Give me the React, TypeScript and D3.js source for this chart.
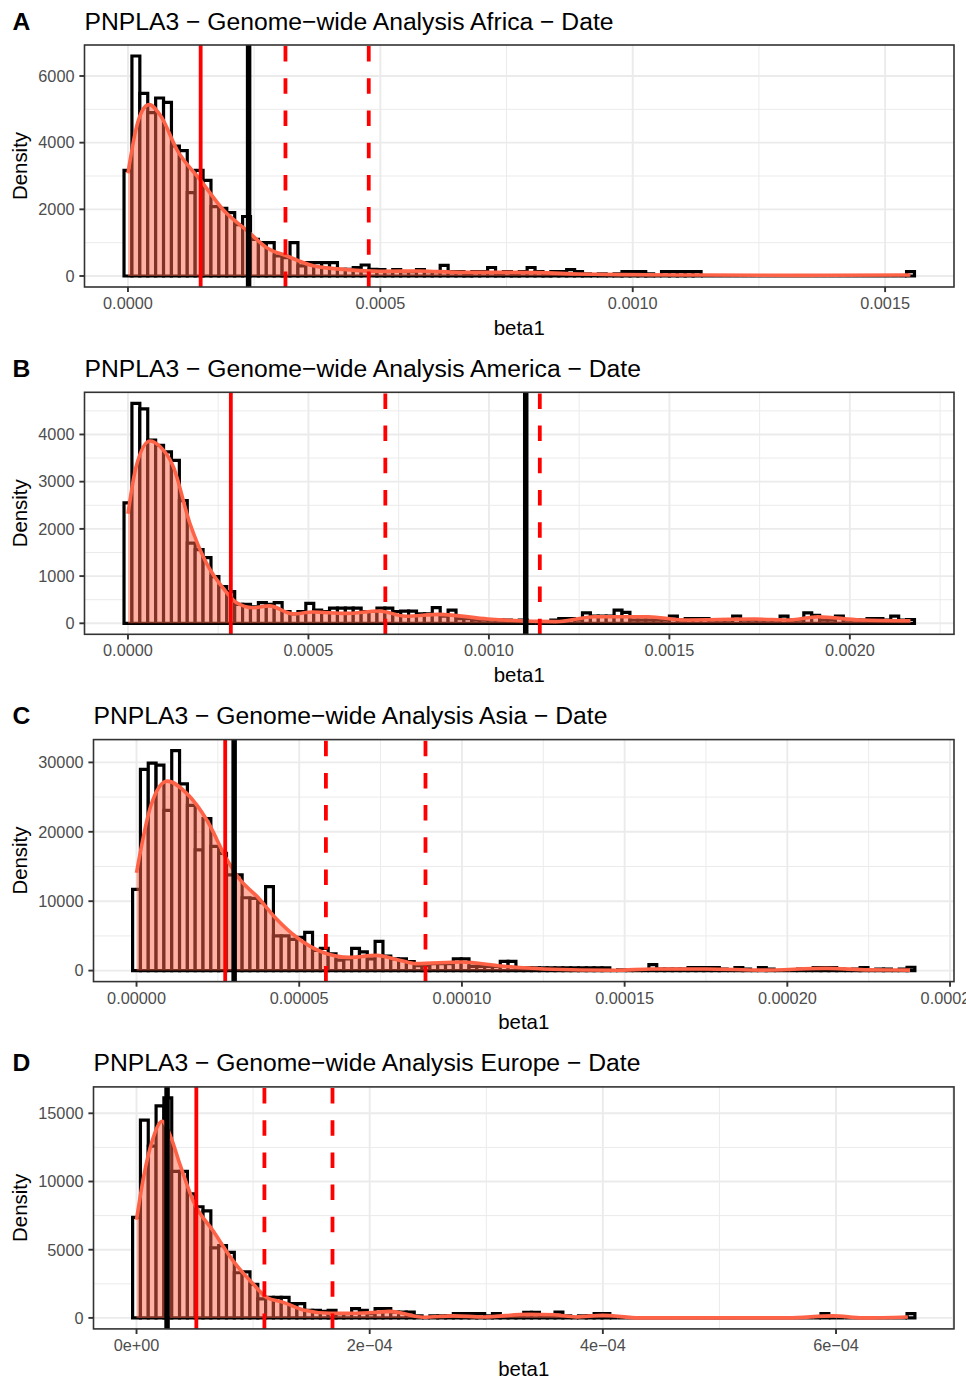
import React, { useEffect, useRef } from "react";
import * as d3 from "d3";

// histogram densities (100 bins per region)
const binsAfrica = [
  3170, 6600, 5480, 4900, 5340, 5210, 3900, 3760, 2500, 3170,
  2870, 2080, 2030, 1900, 1540, 1785, 1100, 1000, 1000, 600,
  550, 1000, 305, 400, 400, 400, 400, 200, 200, 250,
  330, 200, 190, 130, 190, 130, 130, 190, 130, 130,
  320, 130, 130, 64, 130, 130, 255, 64, 130, 64,
  130, 255, 130, 64, 130, 130, 190, 130, 64, 0,
  64, 0, 64, 130, 130, 130, 64, 0, 130, 130,
  130, 130, 130, 0, 0, 0, 0, 0, 0, 0,
  0, 0, 0, 0, 0, 0, 0, 0, 0, 0,
  0, 0, 0, 0, 0, 0, 0, 0, 0, 130,
];
const binsAmerica = [
  2550, 4660, 4540, 3880, 3770, 3630, 3450, 2600, 1700, 1560,
  1390, 990, 780, 670, 400, 400, 350, 440, 400, 440,
  250, 200, 250, 420, 280, 250, 320, 320, 320, 320,
  250, 250, 320, 320, 250, 260, 260, 200, 200, 330,
  150, 280, 100, 100, 70, 70, 70, 70, 70, 0,
  70, 0, 0, 0, 70, 100, 100, 70, 220, 150,
  150, 150, 280, 230, 70, 70, 70, 70, 70, 150,
  70, 100, 100, 100, 70, 70, 70, 150, 70, 70,
  70, 70, 70, 150, 70, 70, 220, 170, 70, 70,
  150, 70, 70, 70, 100, 100, 70, 150, 70, 80,
];
const binsAsia = [
  11700, 29000, 29900, 29600, 23100, 31700, 26900, 23800, 17400, 21900,
  17900, 16900, 13800, 13800, 10500, 10400, 9800, 12100, 5000, 5000,
  4500, 4800, 5500, 2900, 3200, 2400, 1500, 1700, 3200, 2700,
  1700, 4200, 2100, 1700, 1700, 1300, 700, 700, 1000, 1000,
  1000, 1700, 1700, 620, 620, 620, 620, 1340, 1340, 400,
  400, 380, 380, 380, 380, 380, 380, 380, 380, 380,
  380, 0, 100, 0, 100, 0, 860, 200, 200, 200,
  200, 430, 430, 430, 430, 200, 0, 430, 200, 0,
  430, 200, 0, 0, 0, 200, 0, 430, 430, 430,
  200, 0, 200, 430, 0, 200, 200, 0, 200, 480,
];
const binsEurope = [
  7370, 14500, 12600, 15550, 16130, 10750, 10750, 9100, 8150, 7850,
  5140, 5300, 4810, 3310, 3380, 2460, 1400, 1500, 1500, 1500,
  1040, 1040, 550, 550, 480, 550, 310, 310, 680, 550,
  310, 680, 680, 430, 430, 430, 150, 0, 150, 150,
  150, 310, 310, 310, 310, 150, 310, 150, 150, 150,
  400, 400, 150, 150, 430, 150, 0, 150, 150, 310,
  310, 0, 0, 0, 0, 0, 0, 0, 0, 0,
  0, 0, 0, 0, 0, 0, 0, 0, 0, 0,
  0, 0, 0, 0, 0, 0, 0, 0, 310, 0,
  0, 0, 0, 0, 0, 0, 0, 0, 0, 310,
];
const binWidths = [1.566e-5, 2.19e-5, 2.404e-6, 6.71e-6];

// smoothed density curve, sampled points
const densXAfrica = [0, 1.58e-5, 2.8e-5, 4.2e-5, 6.5e-5, 9.8e-5, 1.44e-4, 1.89e-4, 2.36e-4, 2.75e-4, 3.15e-4, 3.67e-4, 4.33e-4, 4.99e-4, 5.78e-4, 6.57e-4, 7.36e-4, 8.14e-4, 8.93e-4, 9.72e-4, 1.13e-3, 1.33e-3, 1.55e-3];
const densYAfrica = [3080, 4400, 4950, 5140, 4800, 3760, 2870, 1980, 1360, 850, 600, 305, 190, 140, 150, 110, 110, 100, 60, 40, 30, 20, 30];
const densXAmerica = [0, 2.2e-5, 6.1e-5, 8.8e-5, 1.25e-4, 1.71e-4, 2.17e-4, 2.63e-4, 3.0e-4, 3.46e-4, 3.92e-4, 4.57e-4, 5.12e-4, 6.04e-4, 6.96e-4, 7.7e-4, 8.62e-4, 9.97e-4, 1.185e-3, 1.293e-3, 1.442e-3, 1.538e-3, 1.735e-3, 1.834e-3, 1.911e-3, 2.03e-3, 2.168e-3];
const densYAmerica = [2320, 3300, 3860, 3750, 3330, 2130, 1280, 750, 440, 330, 370, 200, 240, 210, 260, 150, 190, 90, 35, 140, 140, 70, 90, 70, 140, 70, 55];
const densXAsia = [0, 4.3e-6, 9.4e-6, 1.55e-5, 2.16e-5, 2.78e-5, 3.18e-5, 3.7e-5, 4.31e-5, 4.92e-5, 5.74e-5, 6.55e-5, 7.37e-5, 8.08e-5, 8.6e-5, 9.98e-5, 1.121e-4, 1.252e-4, 1.473e-4, 1.586e-4, 1.751e-4, 1.92e-4, 2.119e-4, 2.25e-4, 2.377e-4];
const densYAsia = [14100, 23600, 27300, 25500, 21700, 16000, 13100, 10700, 7400, 4800, 2600, 1900, 2200, 1500, 1000, 1240, 670, 240, 50, 240, 240, 70, 330, 100, 70];
const densXEurope = [0, 6.2e-6, 1.34e-5, 2.2e-5, 2.91e-5, 3.76e-5, 4.9e-5, 6.61e-5, 8.32e-5, 1.003e-4, 1.117e-4, 1.259e-4, 1.43e-4, 1.658e-4, 1.829e-4, 2.057e-4, 2.171e-4, 2.462e-4, 2.718e-4, 2.974e-4, 3.359e-4, 3.581e-4, 3.769e-4, 3.997e-4, 4.316e-4, 5.59e-4, 5.974e-4, 6.231e-4, 6.616e-4];
const densYEurope = [7190, 10400, 12970, 14420, 13330, 11160, 8500, 6330, 4150, 2460, 1500, 1140, 580, 340, 340, 410, 480, 50, 150, 70, 260, 230, 70, 190, 0, 0, 150, 0, 70];

// reference lines: value and kind
const vlinesAfrica = [1.44e-4, 2.39e-4, 3.12e-4, 4.77e-4];
const vlinesAmerica = [2.85e-4, 7.13e-4, 1.102e-3, 1.141e-3];
const vlinesAsia = [2.725e-5, 3.0e-5, 5.82e-5, 8.88e-5];
const vlinesEurope = [2.62e-5, 5.13e-5, 1.097e-4, 1.681e-4];
const kindsAfrica = ["red", "black", "dash", "dash"];
const kindsAmerica = ["red", "dash", "black", "dash"];
const kindsAsia = ["red", "black", "dash", "dash"];
const kindsEurope = ["black", "red", "dash", "dash"];

// axes
const xTicksAfrica = [0, 0.0005, 0.001, 0.0015];
const xLabelsAfrica = ["0.0000", "0.0005", "0.0010", "0.0015"];
const xTicksAmerica = [0, 0.0005, 0.001, 0.0015, 0.002];
const xLabelsAmerica = ["0.0000", "0.0005", "0.0010", "0.0015", "0.0020"];
const xTicksAsia = [0, 0.00005, 0.0001, 0.00015, 0.0002, 0.00025];
const xLabelsAsia = ["0.00000", "0.00005", "0.00010", "0.00015", "0.00020", "0.00025"];
const xTicksEurope = [0, 0.0002, 0.0004, 0.0006];
const xLabelsEurope = ["0e+00", "2e\u221204", "4e\u221204", "6e\u221204"];
const yTicksAfrica = [0, 2000, 4000, 6000];
const yTicksAmerica = [0, 1000, 2000, 3000, 4000];
const yTicksAsia = [0, 10000, 20000, 30000];
const yTicksEurope = [0, 5000, 10000, 15000];

const letters = ["A", "B", "C", "D"];
const regions = ["Africa", "America", "Asia", "Europe"];

const font = "'Liberation Sans', Arial, Helvetica, sans-serif";

const App = () => {
  const svgRef = useRef<SVGSVGElement>(null);

  const panels = [
    { bins: binsAfrica, dx: densXAfrica, dy: densYAfrica, vl: vlinesAfrica, kinds: kindsAfrica, xt: xTicksAfrica, xl: xLabelsAfrica, yt: yTicksAfrica },
    { bins: binsAmerica, dx: densXAmerica, dy: densYAmerica, vl: vlinesAmerica, kinds: kindsAmerica, xt: xTicksAmerica, xl: xLabelsAmerica, yt: yTicksAmerica },
    { bins: binsAsia, dx: densXAsia, dy: densYAsia, vl: vlinesAsia, kinds: kindsAsia, xt: xTicksAsia, xl: xLabelsAsia, yt: yTicksAsia },
    { bins: binsEurope, dx: densXEurope, dy: densYEurope, vl: vlinesEurope, kinds: kindsEurope, xt: xTicksEurope, xl: xLabelsEurope, yt: yTicksEurope },
  ];

  const drawChart = () => {
    const svg = d3.select(svgRef.current);
    svg.selectAll("*").remove();
    const lefts = [84.5, 84.5, 93.5, 93.5];
    const right = 954;
    const h = 242;

    panels.forEach((p, i) => {
      const top = 45 + i * 347.3;
      const bottom = top + h;
      const left = lefts[i];
      const w = binWidths[i];
      const n = p.bins.length;
      const lo = -w / 2;
      const hi = (n - 0.5) * w;
      const pad = (hi - lo) * 0.05;
      const x = d3.scaleLinear().domain([lo - pad, hi + pad]).range([left, right]);
      const maxY = d3.max(p.bins) as number;
      const y = d3.scaleLinear().domain([-0.05 * maxY, 1.05 * maxY]).range([bottom, top]);

      const g = svg.append("g");
      g.append("clipPath").attr("id", "clip" + i).append("rect")
        .attr("x", left).attr("y", top).attr("width", right - left).attr("height", h);

      // grid
      const xs = p.xt[1] - p.xt[0];
      const ys = p.yt[1] - p.yt[0];
      const [xd0, xd1] = x.domain();
      const [yd0, yd1] = y.domain();
      const xMinor = d3.range(-1, p.xt.length + 1).map((k) => k * xs + xs / 2).filter((v) => v > xd0 && v < xd1);
      const yMinor = d3.range(-1, p.yt.length + 1).map((k) => k * ys + ys / 2).filter((v) => v > yd0 && v < yd1);
      const grid = g.append("g").attr("clip-path", `url(#clip${i})`);
      grid.selectAll(".xmin").data(xMinor).enter().append("line")
        .attr("x1", (d) => x(d)).attr("x2", (d) => x(d)).attr("y1", top).attr("y2", bottom)
        .attr("stroke", "#EBEBEB").attr("stroke-width", 1);
      grid.selectAll(".ymin").data(yMinor).enter().append("line")
        .attr("y1", (d) => y(d)).attr("y2", (d) => y(d)).attr("x1", left).attr("x2", right)
        .attr("stroke", "#EBEBEB").attr("stroke-width", 1);
      grid.selectAll(".xmaj").data(p.xt).enter().append("line")
        .attr("x1", (d) => x(d)).attr("x2", (d) => x(d)).attr("y1", top).attr("y2", bottom)
        .attr("stroke", "#EBEBEB").attr("stroke-width", 1.9);
      grid.selectAll(".ymaj").data(p.yt).enter().append("line")
        .attr("y1", (d) => y(d)).attr("y2", (d) => y(d)).attr("x1", left).attr("x2", right)
        .attr("stroke", "#EBEBEB").attr("stroke-width", 1.9);

      const inner = g.append("g").attr("clip-path", `url(#clip${i})`);

      // histogram bars (paths so that empty bins still draw their outline)
      inner.selectAll(".bar").data(p.bins).enter().append("path")
        .attr("d", (d, k) => {
          const x0 = x(k * w - w / 2), x1 = x(k * w + w / 2);
          return `M${x0},${y(0)}H${x1}V${y(d)}H${x0}Z`;
        })
        .attr("fill", "#FFFFFF").attr("stroke", "#000000")
        .attr("stroke-width", 3.2).attr("stroke-linejoin", "miter");

      // density
      const pts: [number, number][] = p.dx.map((v, k) => [v, p.dy[k]]);
      const area = d3.area<[number, number]>().x((d) => x(d[0])).y0(y(0)).y1((d) => y(d[1])).curve(d3.curveMonotoneX);
      const line = d3.line<[number, number]>().x((d) => x(d[0])).y((d) => y(d[1])).curve(d3.curveMonotoneX);
      inner.append("path").attr("d", area(pts)).attr("fill", "#FF6347").attr("fill-opacity", 0.5);
      inner.append("path").attr("d", line(pts)).attr("fill", "none").attr("stroke", "#FF6347").attr("stroke-width", 3.6);

      // reference lines
      p.vl.forEach((v, k) => {
        const kind = p.kinds[k];
        const path = inner.append("path").attr("d", `M${x(v)},${bottom}V${top}`).attr("fill", "none");
        if (kind === "black") path.attr("stroke", "#000000").attr("stroke-width", 5.5);
        else path.attr("stroke", "#FF0000").attr("stroke-width", 3.8);
        if (kind === "dash") path.attr("stroke-dasharray", "15.5,16.7");
      });

      // border
      g.append("rect").attr("x", left).attr("y", top).attr("width", right - left).attr("height", h)
        .attr("fill", "none").attr("stroke", "#333333").attr("stroke-width", 1.6);

      // ticks & labels
      g.selectAll(".xt").data(p.xt).enter().append("line")
        .attr("x1", (d) => x(d)).attr("x2", (d) => x(d)).attr("y1", bottom).attr("y2", bottom + 5.1)
        .attr("stroke", "#333333").attr("stroke-width", 1.9);
      g.selectAll(".xtl").data(p.xt).enter().append("text")
        .attr("x", (d) => x(d)).attr("y", bottom + 22).attr("text-anchor", "middle")
        .style("font-size", "16.3px").style("font-family", font).attr("fill", "#4D4D4D")
        .text((d, k) => p.xl[k]);
      g.selectAll(".yt").data(p.yt).enter().append("line")
        .attr("y1", (d) => y(d)).attr("y2", (d) => y(d)).attr("x1", left - 5.1).attr("x2", left)
        .attr("stroke", "#333333").attr("stroke-width", 1.9);
      g.selectAll(".ytl").data(p.yt).enter().append("text")
        .attr("x", left - 10).attr("y", (d) => y(d) + 5.8).attr("text-anchor", "end")
        .style("font-size", "16.3px").style("font-family", font).attr("fill", "#4D4D4D")
        .text((d) => String(d));

      // axis titles
      g.append("text").attr("x", (left + right) / 2).attr("y", bottom + 47.5).attr("text-anchor", "middle")
        .style("font-size", "20.4px").style("font-family", font).attr("fill", "#000000").text("beta1");
      g.append("text").attr("transform", `translate(27,${(top + bottom) / 2}) rotate(-90)`).attr("text-anchor", "middle")
        .style("font-size", "20.4px").style("font-family", font).attr("fill", "#000000").text("Density");

      // title and panel letter
      g.append("text").attr("x", left).attr("y", top - 15.5)
        .style("font-size", "24.7px").style("font-family", font).attr("fill", "#000000")
        .text(`PNPLA3 \u2212 Genome\u2212wide Analysis ${regions[i]} \u2212 Date`);
      g.append("text").attr("x", 12.5).attr("y", top - 15.5)
        .style("font-size", "24.7px").style("font-weight", "bold").style("font-family", font).attr("fill", "#000000")
        .text(letters[i]);
    });
  };

  useEffect(() => {
    if (svgRef.current) drawChart();
  }, []);

  return (
    <svg ref={svgRef} width={966} height={1379}
      style={{ position: "absolute", left: 0, top: 0, background: "#FFFFFF" }} />
  );
};

export default App;
